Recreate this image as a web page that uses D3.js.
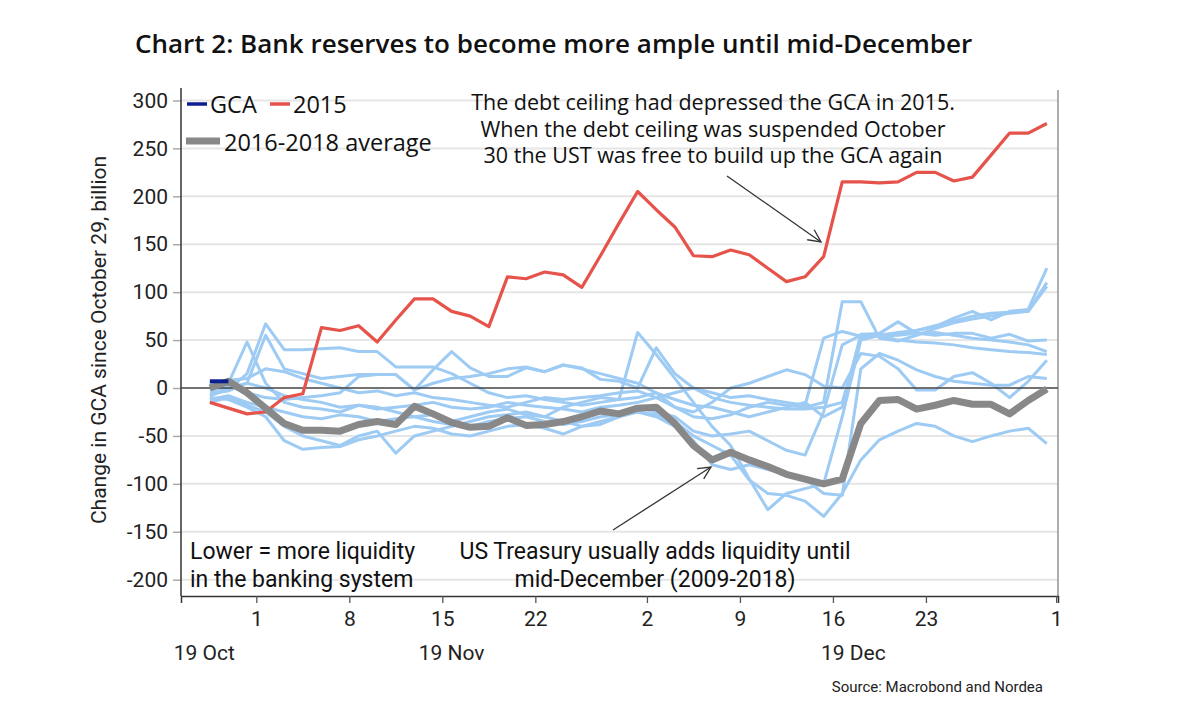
<!DOCTYPE html>
<html>
<head>
<meta charset="utf-8">
<script src="https://cdn.jsdelivr.net/npm/d3@7"></script>
<style>
  html, body { margin: 0; padding: 0; background: #fff; }
  svg { display: block; }
</style>
</head>
<body>
<svg id="chart" width="1200" height="721"></svg>
<script>
// ---------- DATA ----------
// x = business-day index since 29 October (0..45)
const gca = [7, 7];
const y2015 = [-15, -21, -27, -25, -10, -6, 63, 60, 65, 48,
  71, 93, 93, 80, 75, 64, 116, 114, 121, 118,
  105, 138, 172, 205, 186, 168, 138, 137, 144, 139,
  125, 111, 116, 137, 215, 215, 214, 215, 225, 225,
  216, 220, 243, 266, 266, 276];
const avg1618 = [0, 7, -5, -21, -37, -44, -44, -45, -38, -35,
  -38, -19, -27, -36, -41, -40, -31, -39, -38, -35,
  -30, -24, -27, -21, -20, -37, -60, -75, -67, -75,
  -82, -90, -95, -100, -95, -37, -13, -12, -22, -18,
  -13, -17, -17, -27, -13, -1];
const hist1 = [-8, -2, 15, 67, 40, 40, 41, 42, 38, 38,
  22, 22, 22, 15, 5, -5, -10, -8, -12, -15,
  -18, -15, -12, -10, -5, -20, -30, -32, -28, -20,
  -15, -18, -20, -15, 90, 90, 52, 49, 55, 62,
  68, 72, 75, 78, 80, 106];
const hist2 = [0, 5, 48, 5, -15, -20, -22, -25, -18, -20,
  -25, -30, -28, -35, -30, -25, -22, -28, -30, -20,
  -15, -10, -12, 58, 35, 10, -15, -40, -60, -95,
  -127, -110, -105, -100, -30, 50, 55, 58, 60, 65,
  70, 75, 78, 79, 80, 110];
const hist3 = [-5, -3, 5, 55, 20, 15, 10, 12, 14, 14,
  14, -2, 19, 38, 21, 12, 12, 21, 17, 24,
  21, 9, 7, 0, 42, 15, 0, -5, -10, -8,
  -12, -15, -18, 52, 59, 54, 55, 57, 60, 64,
  73, 80, 71, 80, 82, 125];
const hist4 = [-10, -12, -20, -30, -55, -64, -62, -61, -54, -50,
  -45, -40, -42, -48, -50, -45, -40, -38, -42, -48,
  -40, -35, -30, -25, -28, -35, -50, -60, -70, -96,
  -110, -112, -118, -134, -110, -75, -54, -45, -37, -40,
  -50, -56, -50, -45, -42, -58];
const hist5 = [-2, 0, 5, 0, -8, -12, -15, -20, -18, -22,
  -20, -18, -15, -20, -22, -20, -15, -18, -20, -22,
  -25, -20, -18, -15, -10, -5, 0, -10, -15, -18,
  -20, -22, -22, -20, -15, 52, 55, 50, 48, 47,
  45, 42, 40, 38, 37, 35];
const hist6 = [3, 8, 10, 20, 17, 10, 5, 0, -5, -3,
  -8, -5, -10, -12, -15, -18, -20, -15, -10, -12,
  -10, -8, -5, -3, -10, -20, -25, -15, 0, 5,
  12, 19, 14, 2, 0, 36, 33, 20, -2, -2,
  12, 16, 5, -10, 7, 29];
const hist7 = [-12, -8, -15, -20, -25, -30, -32, -28, -30, -35,
  -32, -30, -35, -38, -40, -35, -32, -30, -35, -38,
  -35, -30, -28, -25, -30, -40, -55, -80, -85, -80,
  -85, -90, -95, -110, -112, 20, 36, 29, 19, 12,
  7, 5, 3, 3, 12, 10];
const hist8 = [5, 2, -5, -10, -12, -10, -8, -5, 12, 14,
  14, -2, 5, 10, 12, 15, 20, 22, 17, 24,
  20, 15, 10, 5, -5, -12, -18, -20, -25, -30,
  -25, -20, -15, -30, -20, 56, 57, 69, 57, 55,
  57, 57, 52, 56, 49, 50];
const hist9 = [-15, -10, -18, -25, -40, -50, -55, -60, -50, -45,
  -68, -50, -45, -40, -35, -30, -28, -25, -30, -35,
  -40, -38, -30, -20, -25, -30, -45, -50, -48, -45,
  -55, -65, -70, -25, 45, 55, 54, 55, 57, 58,
  55, 52, 50, 48, 45, 38];
const historical = [hist1, hist2, hist3, hist4, hist5, hist6, hist7, hist8, hist9];

const yTicks = [-200, -150, -100, -50, 0, 50, 100, 150, 200, 250, 300];
const xTickLabels = ["1", "8", "15", "22", "2", "9", "16", "23", "1"];
const xTickIndex = [3, 8, 13, 18, 24, 29, 34, 39, 46];
const monthLabels = ["19 Oct", "19 Nov", "19 Dec"];
const monthIndex = [-0.3, 13, 34.6];
const legendLabels = ["GCA", "2015", "2016-2018 average"];

// ---------- LAYOUT ----------
const svg = d3.select("#chart");
const L = 181, R = 1058, T = 88, B = 596;
const x = d3.scaleLinear().domain([-1.55, 45.6]).range([L, R]);
const y = d3.scaleLinear().domain([-217, 313]).range([B, T]);

const tickFont = "Roboto, 'Open Sans', sans-serif";
const textFont = "'Open Sans', 'Noto Sans', sans-serif";

// title
svg.append("text").attr("x", 135).attr("y", 53)
  .attr("font-family", textFont).attr("font-weight", 600)
  .attr("font-size", 26).attr("fill", "#111")
  .text("Chart 2: Bank reserves to become more ample until mid-December");

// gridlines
svg.append("g").selectAll("line").data(yTicks.filter(d => d !== 0)).join("line")
  .attr("x1", L).attr("x2", R).attr("y1", d => y(d)).attr("y2", d => y(d))
  .attr("stroke", "#e6e6e6").attr("stroke-width", 2);

// y axis
const yAxis = d3.axisLeft(y).tickValues(yTicks).tickSize(8).tickPadding(5)
  .tickFormat(d => String(d));
const gy = svg.append("g").attr("transform", `translate(${L},0)`).call(yAxis);
gy.select(".domain").remove();
gy.selectAll(".tick line").attr("stroke", "#aaa").attr("stroke-width", 1.5);
gy.selectAll(".tick text").attr("font-family", tickFont).attr("font-size", 21).attr("fill", "#222");
svg.append("line").attr("x1", L).attr("x2", L).attr("y1", T).attr("y2", B)
  .attr("stroke", "#333").attr("stroke-width", 1.5);
svg.append("line").attr("x1", R).attr("x2", R).attr("y1", T + 2).attr("y2", B)
  .attr("stroke", "#777").attr("stroke-width", 1.2);

// y label
svg.append("text")
  .attr("transform", `translate(106,${(T + B) / 2 - 2}) rotate(-90)`)
  .attr("text-anchor", "middle").attr("font-family", tickFont)
  .attr("font-size", 21).attr("fill", "#222")
  .text("Change in GCA since October 29, billion");

// x axis
const xAxis = d3.axisBottom(x).tickValues(xTickIndex.map(d => d - 0.5))
  .tickSize(7).tickPadding(8)
  .tickFormat((d, i) => xTickLabels[i]);
const gx = svg.append("g").attr("transform", `translate(0,${B})`).call(xAxis);
gx.select(".domain").attr("stroke", "#333").attr("stroke-width", 1.5);
gx.selectAll(".tick line").attr("stroke", "#555").attr("stroke-width", 1.3);
gx.selectAll(".tick text").attr("font-family", tickFont).attr("font-size", 21).attr("fill", "#222");

svg.append("g").selectAll("text").data(monthLabels).join("text")
  .attr("x", (d, i) => x(monthIndex[i])).attr("y", 660)
  .attr("text-anchor", "middle").attr("font-family", tickFont)
  .attr("font-size", 21).attr("fill", "#222").text(d => d);

// lines
const line = d3.line().x((d, i) => x(i)).y(d => y(d)).curve(d3.curveLinear);

svg.append("g").selectAll("path").data(historical).join("path")
  .attr("d", line).attr("fill", "none").attr("stroke", "#9ecbf4")
  .attr("stroke-width", 3).attr("stroke-linejoin", "round");

svg.append("line").attr("x1", L).attr("x2", R).attr("y1", y(0)).attr("y2", y(0))
  .attr("stroke", "#444").attr("stroke-width", 1.5);

svg.append("path").datum(y2015).attr("d", line).attr("fill", "none")
  .attr("stroke", "#e5534b").attr("stroke-width", 3.2).attr("stroke-linejoin", "round");

svg.append("path").datum(avg1618).attr("d", line).attr("fill", "none")
  .attr("stroke", "#888888").attr("stroke-width", 7).attr("stroke-linejoin", "round");

svg.append("path").datum(gca).attr("d", line).attr("fill", "none")
  .attr("stroke", "#0b1f8f").attr("stroke-width", 4);

// legend
const lg = svg.append("g").attr("font-family", textFont).attr("font-size", 23.5).attr("fill", "#111");
lg.append("line").attr("x1", 187).attr("x2", 207).attr("y1", 104).attr("y2", 104)
  .attr("stroke", "#0b1f8f").attr("stroke-width", 3.5);
lg.append("text").attr("x", 210).attr("y", 113).text(legendLabels[0]);
lg.append("line").attr("x1", 270).attr("x2", 290).attr("y1", 104).attr("y2", 104)
  .attr("stroke", "#e5534b").attr("stroke-width", 3.5);
lg.append("text").attr("x", 293).attr("y", 113).text(legendLabels[1]);
lg.append("line").attr("x1", 186).attr("x2", 220).attr("y1", 141).attr("y2", 141)
  .attr("stroke", "#888888").attr("stroke-width", 7);
lg.append("text").attr("x", 224).attr("y", 151).text(legendLabels[2]);

// annotations
const ann1 = ["The debt ceiling had depressed the GCA in 2015.",
  "When the debt ceiling was suspended October",
  "30 the UST was free to build up the GCA again"];
svg.append("g").selectAll("text").data(ann1).join("text")
  .attr("x", 713).attr("y", (d, i) => 110 + i * 26.5)
  .attr("text-anchor", "middle").attr("font-family", textFont)
  .attr("font-size", 21.5).attr("fill", "#111").text(d => d);

const ann2 = ["US Treasury usually adds liquidity until", "mid-December (2009-2018)"];
svg.append("g").selectAll("text").data(ann2).join("text")
  .attr("x", 655).attr("y", (d, i) => 559 + i * 28)
  .attr("text-anchor", "middle").attr("font-family", tickFont)
  .attr("font-size", 23).attr("fill", "#111").text(d => d);

const ann3 = ["Lower = more liquidity", "in the banking system"];
svg.append("g").selectAll("text").data(ann3).join("text")
  .attr("x", 190).attr("y", (d, i) => 559 + i * 28)
  .attr("font-family", tickFont)
  .attr("font-size", 23).attr("fill", "#111").text(d => d);

// arrows
function arrow(x1, y1, x2, y2) {
  const g = svg.append("g").attr("stroke", "#333").attr("stroke-width", 1.3).attr("fill", "none");
  g.append("line").attr("x1", x1).attr("y1", y1).attr("x2", x2).attr("y2", y2);
  const a = Math.atan2(y2 - y1, x2 - x1), len = 14, sp = 0.45;
  g.append("path").attr("d",
    `M${x2 - len * Math.cos(a - sp)},${y2 - len * Math.sin(a - sp)} L${x2},${y2} L${x2 - len * Math.cos(a + sp)},${y2 - len * Math.sin(a + sp)}`);
}
arrow(727, 176, 821, 242);
arrow(613, 530, 711, 467);

// source
svg.append("text").attr("x", 1043).attr("y", 692).attr("text-anchor", "end")
  .attr("font-family", tickFont).attr("font-size", 15).attr("fill", "#222")
  .text("Source: Macrobond and Nordea");
</script>
</body>
</html>
